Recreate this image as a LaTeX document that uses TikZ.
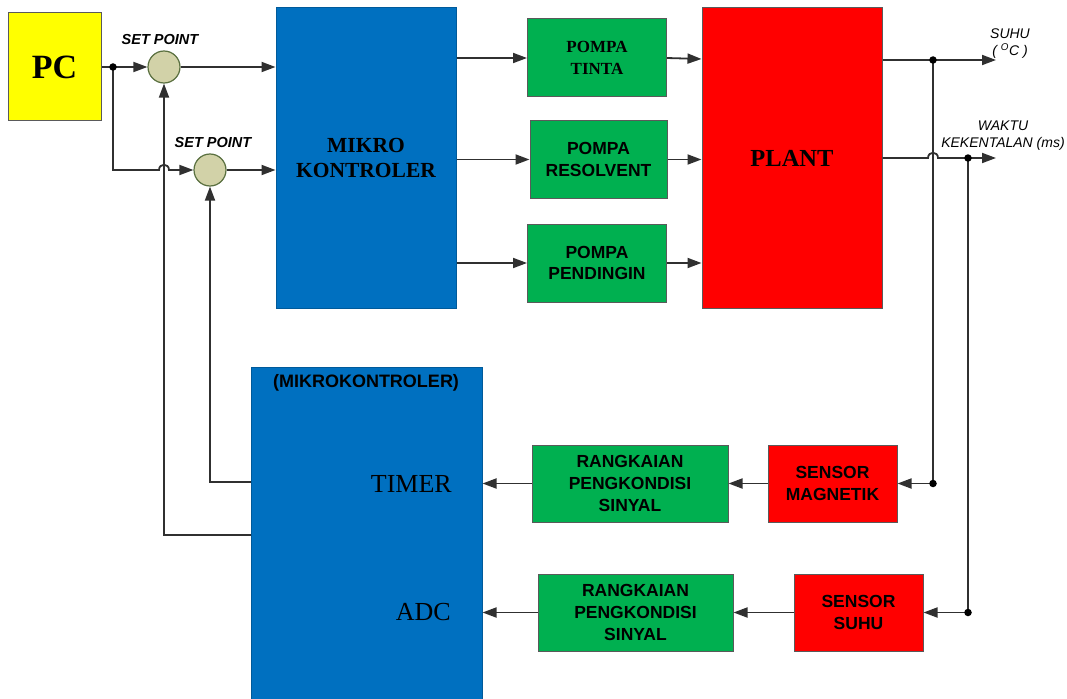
\documentclass[tikz,border=0pt]{standalone}
\usepackage{fontspec}
\setmainfont{Liberation Serif}
\setsansfont{Liberation Sans}
\usetikzlibrary{arrows.meta,calc}
\definecolor{cyel}{HTML}{FFFF00}
\definecolor{cblue}{HTML}{0070C0}
\definecolor{cgreen}{HTML}{00B050}
\definecolor{cred}{HTML}{FF0000}
\definecolor{ccirc}{HTML}{D2D2A8}
\definecolor{ccircb}{HTML}{5A7040}
\definecolor{cline}{HTML}{303030}
\definecolor{cbord}{HTML}{5A5A5A}
\tikzset{
  blk/.style={draw=cbord,line width=1pt,inner sep=0pt,align=center},
  gbox/.style={blk,fill=cgreen,font=\sffamily\bfseries\fontsize{17.5}{21.7}\selectfont},
  rbox/.style={blk,fill=cred,font=\sffamily\bfseries\fontsize{17.5}{21.7}\selectfont},
  sumc/.style={circle,draw=ccircb,line width=1.2pt,fill=ccirc,minimum size=32pt,inner sep=0pt},
  conn/.style={draw=cline,line width=1.8pt},
  arr/.style={conn,-{Triangle[length=14pt,width=10pt]}},
  jdot/.style={circle,fill=black,minimum size=7.5pt,inner sep=0pt},
  splab/.style={font=\sffamily\bfseries\itshape\fontsize{14.5}{17}\selectfont},
  outlab/.style={font=\sffamily\itshape\fontsize{14}{17}\selectfont,align=center},
}
\begin{document}
\begin{tikzpicture}[x=1pt,y=-1pt]
\useasboundingbox (0,0) rectangle (1067,698);
\fill[white] (0,0) rectangle (1067,698);
% blocks
\node[blk,fill=cyel,minimum width=93pt,minimum height=108pt,font=\bfseries\fontsize{34}{38}\selectfont] (pc) at (54.5,67) {PC};
\node[sumc] (sp1) at (164,67) {};
\node[sumc] (sp2) at (210,170) {};
\node[splab] (sl1) at (160,40) {SET POINT};
\node[splab] (sl2) at (213,143) {SET POINT};
\node[blk,fill=cblue,draw=cblue!80!black,minimum width=180pt,minimum height=300pt,font=\bfseries\fontsize{21.5}{25}\selectfont] (mk) at (366,158) {MIKRO\\KONTROLER};
\node[gbox,minimum width=139pt,minimum height=78pt,font=\bfseries\fontsize{17}{21.7}\selectfont] (pt) at (597,58) {POMPA\\TINTA};
\node[gbox,minimum width=137pt,minimum height=77pt] (pr) at (598.5,159.5) {POMPA\\RESOLVENT};
\node[gbox,minimum width=139pt,minimum height=78pt] (pp) at (597,263) {POMPA\\PENDINGIN};
\node[blk,fill=cred,minimum width=180pt,minimum height=300pt,font=\bfseries\fontsize{24.5}{28}\selectfont] (plant) at (792,158) {PLANT};
\node[rbox,minimum width=129pt,minimum height=77pt] (smag) at (832.5,483.5) {SENSOR\\MAGNETIK};
\node[rbox,minimum width=129pt,minimum height=77pt] (ssuhu) at (858.5,612.5) {SENSOR\\SUHU};
\node[gbox,minimum width=196pt,minimum height=77pt] (r1) at (630,483.5) {RANGKAIAN\\PENGKONDISI\\SINYAL};
\node[gbox,minimum width=195pt,minimum height=77pt] (r2) at (635.5,612.5) {RANGKAIAN\\PENGKONDISI\\SINYAL};
\node[blk,fill=cblue,draw=cblue!80!black,minimum width=231pt,minimum height=336pt] (mk2) at (366.5,535) {};
\node[font=\sffamily\bfseries\fontsize{18}{20}\selectfont] (mk2t) at (366,383) {(MIKROKONTROLER)};
\node[font=\fontsize{26}{28}\selectfont,anchor=base east,inner sep=0pt] (timer) at (452,492) {TIMER};
\node[font=\fontsize{26}{28}\selectfont,anchor=base east,inner sep=0pt] (adc) at (451,620) {ADC};
% output labels
\node[outlab] (lsuhu) at (1010,44) {SUHU\\( \textsuperscript{O}C )};
\node[outlab] (lwak) at (1003,136) {WAKTU\\KEKENTALAN (ms)};
% coordinates
\coordinate (j1) at (113,67);
\coordinate (o1) at (996,60);
\coordinate (o2) at (996,158);
\coordinate (j2) at (933,60);
\coordinate (j3) at (968,158);
\coordinate (fb1) at (251,482);
\coordinate (fb2) at (251,535);
% connectors left
\draw[conn] (pc.east |- j1) -- (j1);
\draw[arr] (j1) -- (sp1.west);
\draw[arr] (j1) -- (j1 |- sp2) -- ($(sp2 -| sp1)+(-5,0)$) .. controls ($(sp2 -| sp1)+(-5,-7)$) and ($(sp2 -| sp1)+(5,-7)$) .. ($(sp2 -| sp1)+(5,0)$) -- (sp2.west);
\node[jdot] (d1) at (j1) {};
\draw[arr] (sp1.east) -- (sp1 -| mk.west);
\draw[arr] (sp2.east) -- (sp2 -| mk.west);
% micro to pumps
\draw[arr] (mk.east |- pt) -- (pt.west);
\draw[arr] (mk.east |- pr) -- (pr.west);
\draw[arr] (mk.east |- pp) -- (pp.west);
\draw[arr] (pt.east) -- ($(plant.west |- pt)+(0,1)$);
\draw[arr] (pr.east) -- (pr -| plant.west);
\draw[arr] (pp.east) -- (pp -| plant.west);
% plant outputs
\draw[arr] (plant.east |- o1) -- (o1);
\draw[arr] (plant.east |- o2) -- ($(j2 |- o2)+(-5,0)$) .. controls ($(j2 |- o2)+(-5,-7)$) and ($(j2 |- o2)+(5,-7)$) .. ($(j2 |- o2)+(5,0)$) -- (o2);
\draw[arr] (j2) |- (smag.east);
\draw[arr] (j3) |- (ssuhu.east);
\node[jdot] (d2) at (j2) {};
\node[jdot] (d3) at (j3) {};
\node[jdot] (d4) at (j2 |- smag) {};
\node[jdot] (d5) at (j3 |- ssuhu) {};
% lower chain
\draw[arr] (smag.west) -- (smag -| r1.east);
\draw[arr] (ssuhu.west) -- (ssuhu -| r2.east);
\draw[arr] (r1.west) -- (r1 -| mk2.east);
\draw[arr] (r2.west) -- (r2 -| mk2.east);
% feedback
\draw[arr] (fb1) -| (sp2.south);
\draw[arr] (fb2) -| (sp1.south);
\end{tikzpicture}
\end{document}
